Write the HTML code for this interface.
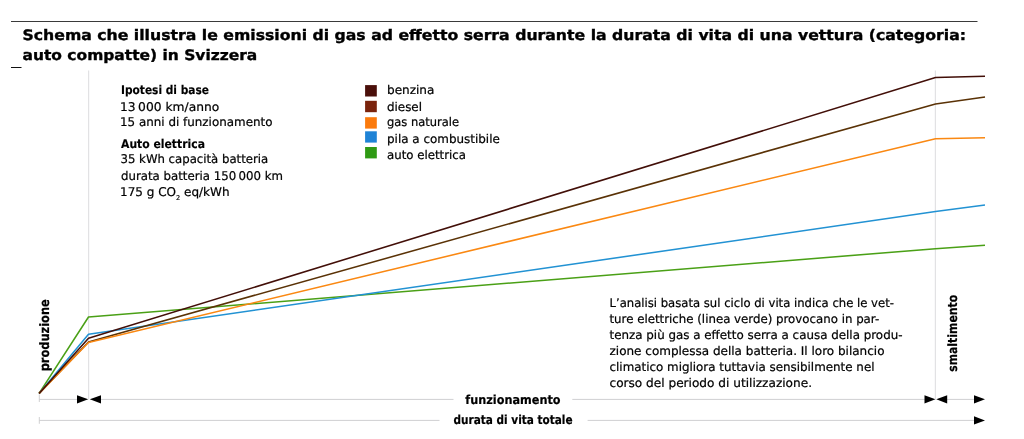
<!DOCTYPE html>
<html lang="it">
<head>
<meta charset="utf-8">
<title>Schema emissioni di gas ad effetto serra</title>
<style>
html,body{margin:0;padding:0;background:#fff;}
body{width:1024px;height:439px;overflow:hidden;position:relative;}
svg{position:absolute;left:0;top:0;display:block;text-rendering:geometricPrecision;}
.t{font-family:"DejaVu Sans","Liberation Sans",sans-serif;font-weight:bold;font-size:14.5px;fill:#000;stroke:#000;stroke-width:0.35px;}
.b{font-family:"DejaVu Sans","Liberation Sans",sans-serif;font-size:12px;fill:#000;stroke:#000;stroke-width:0.22px;}
.bh{font-family:"DejaVu Sans","Liberation Sans",sans-serif;font-size:12px;font-weight:bold;fill:#000;stroke:#000;stroke-width:0.15px;}
.bb{font-family:"DejaVu Sans","Liberation Sans",sans-serif;font-size:12.5px;font-weight:bold;fill:#000;stroke:#000;stroke-width:0.2px;}
</style>
</head>
<body>
<svg width="1024" height="439" viewBox="0 0 1024 439">
<rect x="0" y="0" width="1024" height="439" fill="#ffffff"/>
<!-- top rule -->
<rect x="11" y="21" width="966.5" height="1" fill="#3a3a3a"/>
<rect x="11" y="67" width="10.5" height="1" fill="#111"/>
<!-- title -->
<text class="t" x="22.5" y="40.4" textLength="943.5" lengthAdjust="spacingAndGlyphs">Schema che illustra le emissioni di gas ad effetto serra durante la durata di vita di una vettura (categoria:</text>
<text class="t" x="22.5" y="59.7" textLength="234.8" lengthAdjust="spacingAndGlyphs">auto compatte) in Svizzera</text>

<!-- guide lines -->
<g fill="#e2e2e4">
<rect x="88" y="70.5" width="1.2" height="329"/>
<rect x="934.8" y="70.5" width="1.2" height="329"/>
</g>
<g fill="#d0d0d2">
<rect x="39" y="398.9" width="38" height="1"/>
<rect x="100" y="398.9" width="353.5" height="1"/>
<rect x="572.3" y="398.9" width="353" height="1"/>
<rect x="947" y="398.9" width="28" height="1"/>
<rect x="39" y="419.9" width="400.5" height="1"/>
<rect x="587.6" y="419.9" width="387" height="1"/>
<rect x="38.8" y="394.4" width="1" height="7.6"/>
<rect x="38.8" y="417" width="1" height="6.8"/>
</g>

<!-- data lines -->
<g fill="none" stroke-width="1.55" stroke-linejoin="round" stroke-linecap="butt">
<polyline stroke="#4aa016" points="39.1,393.4 88.5,317 935.5,248.7 985,245.3"/>
<polyline stroke="#2292d3" points="39.1,393.4 88.5,334.3 935.5,211.6 985,205.1"/>
<polyline stroke="#5a3206" points="39.1,393.4 88.5,342 935.5,103.9 985,97.1"/>
<polyline stroke="#fa8812" points="39.1,393.4 88.5,342.5 935.5,138.8 985,137.7"/>
<polyline stroke="#420f08" points="39.1,393.4 88.5,338.3 935.5,77.6 985,76.2"/>
</g>

<!-- arrows -->
<g fill="#000">
<polygon points="77,395.2 88.2,399.3 77,403.4"/>
<polygon points="101,395.2 89.8,399.3 101,403.4"/>
<polygon points="924.5,395.2 935.4,399.3 924.5,403.4"/>
<polygon points="947.2,395.2 936.3,399.3 947.2,403.4"/>
<polygon points="974,395.2 985,399.3 974,403.4"/>
<polygon points="974,416.3 985,420.4 974,424.5"/>
</g>

<!-- legend -->
<rect x="365.1" y="85.1" width="11.7" height="11.4" fill="#4a0f0a"/>
<rect x="365.1" y="100.8" width="11.7" height="11.4" fill="#7a230c"/>
<rect x="365.1" y="117.2" width="11.7" height="11.4" fill="#fb7a0c"/>
<rect x="365.1" y="131.3" width="11.7" height="11.3" fill="#1f83d6"/>
<rect x="365.1" y="147" width="11.7" height="11.4" fill="#2f9a14"/>
<g class="b">
<text x="387" y="94.1" textLength="47.4" lengthAdjust="spacingAndGlyphs">benzina</text>
<text x="387" y="110.5" textLength="35" lengthAdjust="spacingAndGlyphs">diesel</text>
<text x="387" y="126.4" textLength="72" lengthAdjust="spacingAndGlyphs">gas naturale</text>
<text x="387" y="142.5" textLength="112.8" lengthAdjust="spacingAndGlyphs">pila a combustibile</text>
<text x="387" y="158.6" textLength="79" lengthAdjust="spacingAndGlyphs">auto elettrica</text>
</g>

<!-- assumptions -->
<text class="bh" x="121" y="94.3" textLength="88" lengthAdjust="spacingAndGlyphs">Ipotesi di base</text>
<text class="b" x="120" y="110.5" textLength="99.3" lengthAdjust="spacingAndGlyphs">13 000 km/anno</text>
<text class="b" x="120" y="126.4" textLength="152.5" lengthAdjust="spacingAndGlyphs">15 anni di funzionamento</text>
<text class="bh" x="121" y="147.8" textLength="84" lengthAdjust="spacingAndGlyphs">Auto elettrica</text>
<text class="b" x="120.5" y="163.4" textLength="147.7" lengthAdjust="spacingAndGlyphs">35 kWh capacità batteria</text>
<text class="b" x="121" y="179.7" textLength="162" lengthAdjust="spacingAndGlyphs">durata batteria 150 000 km</text>
<text class="b" x="120" y="195.8" textLength="109.6" lengthAdjust="spacingAndGlyphs">175 g CO<tspan font-size="6.5px" dy="4.4">2</tspan><tspan dy="-4.4"> eq/kWh</tspan></text>

<!-- paragraph -->
<g class="b">
<text x="609.5" y="307" textLength="284.4" lengthAdjust="spacingAndGlyphs">L’analisi basata sul ciclo di vita indica che le vet-</text>
<text x="609.5" y="322.95" textLength="269.7" lengthAdjust="spacingAndGlyphs">ture elettriche (linea verde) provocano in par-</text>
<text x="609.5" y="338.9" textLength="293" lengthAdjust="spacingAndGlyphs">tenza più gas a effetto serra a causa della produ-</text>
<text x="609.5" y="354.85" textLength="275" lengthAdjust="spacingAndGlyphs">zione complessa della batteria. Il loro bilancio</text>
<text x="609.5" y="370.8" textLength="265" lengthAdjust="spacingAndGlyphs">climatico migliora tuttavia sensibilmente nel</text>
<text x="609.5" y="386.75" textLength="202.5" lengthAdjust="spacingAndGlyphs">corso del periodo di utilizzazione.</text>
</g>

<!-- axis labels -->
<text class="bb" x="465.3" y="403.5" textLength="95.3" lengthAdjust="spacingAndGlyphs">funzionamento</text>
<text class="bb" x="453.6" y="424.3" textLength="119" lengthAdjust="spacingAndGlyphs">durata di vita totale</text>
<text class="bb" style="font-size:13px" transform="translate(49.2,371.3) rotate(-90)" textLength="72.1" lengthAdjust="spacingAndGlyphs">produzione</text>
<text class="bb" style="font-size:12.8px" transform="translate(956.6,371.8) rotate(-90)" textLength="77" lengthAdjust="spacingAndGlyphs">smaltimento</text>
</svg>
</body>
</html>
